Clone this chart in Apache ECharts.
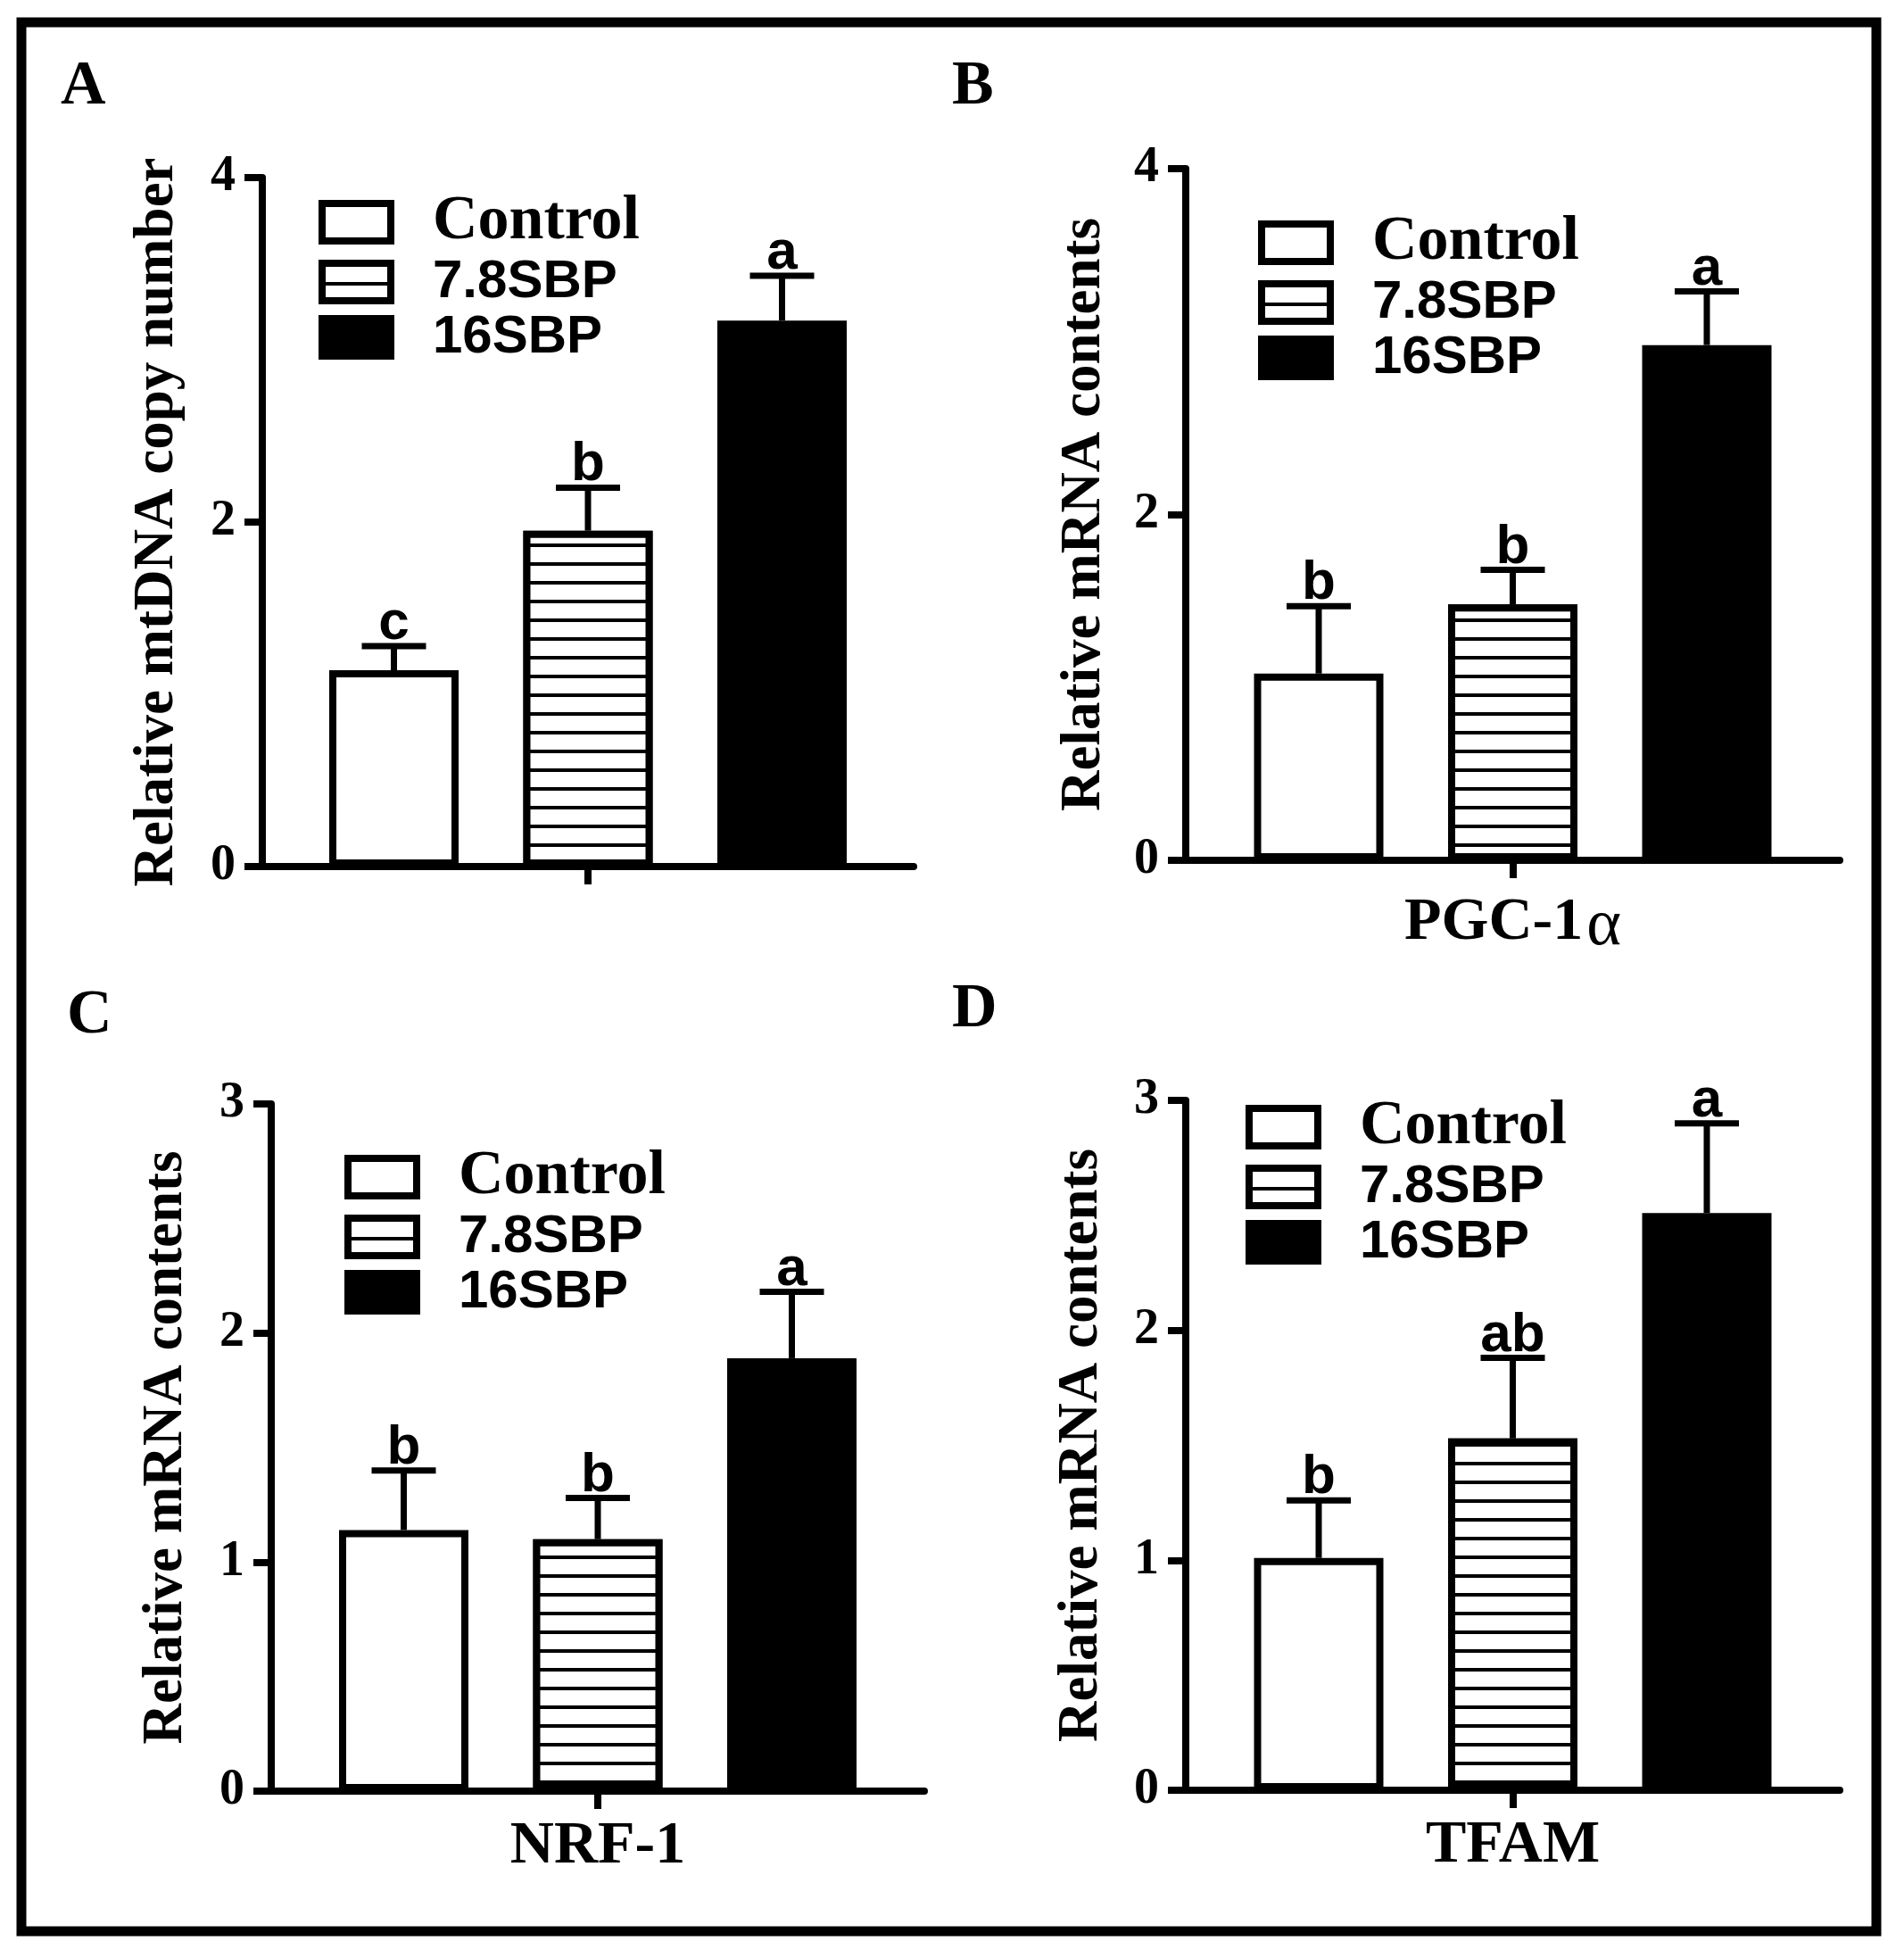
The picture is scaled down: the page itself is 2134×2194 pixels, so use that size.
<!DOCTYPE html>
<html>
<head>
<meta charset="UTF-8">
<title>mtDNA / mRNA</title>
<script src="https://cdn.jsdelivr.net/npm/echarts@6/dist/echarts.min.js"></script>
<style>
  body{margin:0;background:#fff}
</style>
</head>
<body>
<div id="main" style="width:2134px;height:2194px"></div>
<script type="text/javascript">
// groups & panels
var groups = ['Control', '7.8SBP', '16SBP'];
var panelTags = ['A', 'B', 'C', 'D'];
var genes = ['', 'PGC-1\u03b1', 'NRF-1', 'TFAM'];
var yTitles = ['Relative mtDNA copy number', 'Relative mRNA contents', 'Relative mRNA contents', 'Relative mRNA contents'];
var yMax = [4, 4, 3, 3];
var yStep = [2, 2, 1, 1];

// means and error (SD)
var meanA = [1.14, 1.95, 3.17];
var errA  = [0.14, 0.25, 0.26];
var meanB = [1.08, 1.48, 2.98];
var errB  = [0.39, 0.20, 0.31];
var meanC = [1.14, 1.10, 1.89];
var errC  = [0.26, 0.18, 0.29];
var meanD = [1.01, 1.53, 2.51];
var errD  = [0.25, 0.35, 0.39];
var lettersA = ['c', 'b', 'a'];
var lettersB = ['b', 'b', 'a'];
var lettersC = ['b', 'b', 'a'];
var lettersD = ['b', 'ab', 'a'];

var means = [meanA, meanB, meanC, meanD];
var errs = [errA, errB, errC, errD];
var letters = [lettersA, lettersB, lettersC, lettersD];

// layout
var grids = [
  {left: 294, top: 199, width: 730, height: 772},
  {left: 1329, top: 189, width: 733, height: 775},
  {left: 304, top: 1237, width: 732, height: 770},
  {left: 1329, top: 1233, width: 733, height: 773}
];
var legendPos = [[357, 214], [1410, 237], [386, 1284], [1396, 1228]];
var tagPos = [[68, 63], [1067, 63], [75, 1104], [1067, 1097]];
var nameGaps = [86, 82, 86, 85];

var BAR_W = 145, BAR_GAP = 0.5, CAP = 36;
var SERIF = '"Liberation Serif", "Times New Roman", serif';
var SANS = '"Liberation Sans", Arial, sans-serif';

var stripes = {
  symbol: 'rect', symbolSize: 1, color: '#000', backgroundColor: '#fff',
  dashArrayX: [1, 0], dashArrayY: [4, 16.5], rotation: 0
};
var barStyles = [
  {color: '#fff', borderColor: '#000', borderWidth: 8},
  {color: '#fff', borderColor: '#000', borderWidth: 8, decal: stripes},
  {color: '#000', borderColor: '#000', borderWidth: 8}
];

function errRender(p) {
  return function (params, api) {
    var i = api.value(3);
    var base = api.coord([0, api.value(1)]);
    var tip = api.coord([0, api.value(1) + api.value(2)]);
    var x = base[0] + (i - 1) * BAR_W * (1 + BAR_GAP);
    return {
      type: 'group',
      children: [
        {type: 'line', shape: {x1: x, y1: base[1], x2: x, y2: tip[1]}, style: {stroke: '#000', lineWidth: 7}},
        {type: 'line', shape: {x1: x - CAP, y1: tip[1], x2: x + CAP, y2: tip[1]}, style: {stroke: '#000', lineWidth: 7}},
        {type: 'text', x: x, y: tip[1] + 6, style: {
          text: letters[p][i], fill: '#000', fontSize: 62, fontWeight: 'bold', fontFamily: SANS,
          align: 'center', verticalAlign: 'bottom'}}
      ]
    };
  };
}

// greek letter drawn in a plain (non-bold) face, as in the original
function geneLabel(v) {
  var k = v.indexOf('\u03b1');
  if (k < 0) return '{g|' + v + '}';
  return '{g|' + v.slice(0, k) + '}{al|' + v.slice(k) + '}';
}

var option = {
  backgroundColor: '#fff',
  animation: false,
  title: [], grid: [], xAxis: [], yAxis: [], legend: [], series: [],
  graphic: [{
    type: 'rect', shape: {x: 24, y: 25, width: 2079, height: 2139},
    style: {fill: 'none', stroke: '#000', lineWidth: 11}
  }]
};

for (var p = 0; p < 4; p++) {
  option.title.push({
    text: panelTags[p], left: tagPos[p][0], top: tagPos[p][1], padding: 0,
    textStyle: {fontFamily: SERIF, fontWeight: 'bold', fontSize: 70, color: '#000'}
  });
  option.grid.push(grids[p]);
  option.xAxis.push({
    type: 'category', gridIndex: p, data: [genes[p]],
    axisLine: {lineStyle: {color: '#000', width: 8}},
    axisTick: {show: true, alignWithLabel: true, length: 20, lineStyle: {color: '#000', width: 8}},
    axisLabel: {
      margin: 28, color: '#000', formatter: geneLabel,
      rich: {
        g: {fontFamily: SERIF, fontWeight: 'bold', fontSize: 68, color: '#000'},
        al: {fontFamily: SERIF, fontWeight: 'normal', fontSize: 74, color: '#000', padding: [10, 0, 0, 4]}
      }
    },
    splitLine: {show: false}
  });
  option.yAxis.push({
    type: 'value', gridIndex: p, min: 0, max: yMax[p], interval: yStep[p],
    name: yTitles[p], nameLocation: 'middle', nameGap: nameGaps[p],
    nameTextStyle: {fontFamily: SERIF, fontWeight: 'bold', fontSize: 63, color: '#000'},
    axisLine: {show: true, lineStyle: {color: '#000', width: 8}},
    axisTick: {show: true, length: 20, lineStyle: {color: '#000', width: 8}},
    axisLabel: {margin: 30, color: '#000', fontFamily: SERIF, fontWeight: 'bold', fontSize: 56},
    splitLine: {show: false}
  });
  option.legend.push({
    orient: 'vertical', left: legendPos[p][0], top: legendPos[p][1], padding: 0,
    icon: 'rect', itemWidth: 77, itemHeight: 42, itemGap: 2, selectedMode: false,
    itemStyle: {borderColor: '#000', borderWidth: 8},
    textStyle: {color: '#000', fontFamily: SANS, fontWeight: 'bold', fontSize: 60, lineHeight: 44, padding: [0, 0, 0, 42]},
    data: [
      {name: groups[0], textStyle: {fontFamily: SERIF, fontSize: 70}},
      {name: groups[1]},
      {name: groups[2]}
    ]
  });
  for (var g = 0; g < 3; g++) {
    option.series.push({
      name: groups[g], type: 'bar', xAxisIndex: p, yAxisIndex: p,
      barWidth: BAR_W, barGap: (BAR_GAP * 100) + '%',
      itemStyle: barStyles[g],
      emphasis: {disabled: true},
      data: [means[p][g]]
    });
  }
  option.series.push({
    name: 'err' + p, type: 'custom', xAxisIndex: p, yAxisIndex: p, z: 5,
    renderItem: errRender(p),
    encode: {x: 0, y: 1},
    data: means[p].map(function (m, i) { return [0, m, errs[p][i], i]; })
  });
}

var myChart = echarts.init(document.getElementById('main'));
myChart.setOption(option);
</script>
</body>
</html>
